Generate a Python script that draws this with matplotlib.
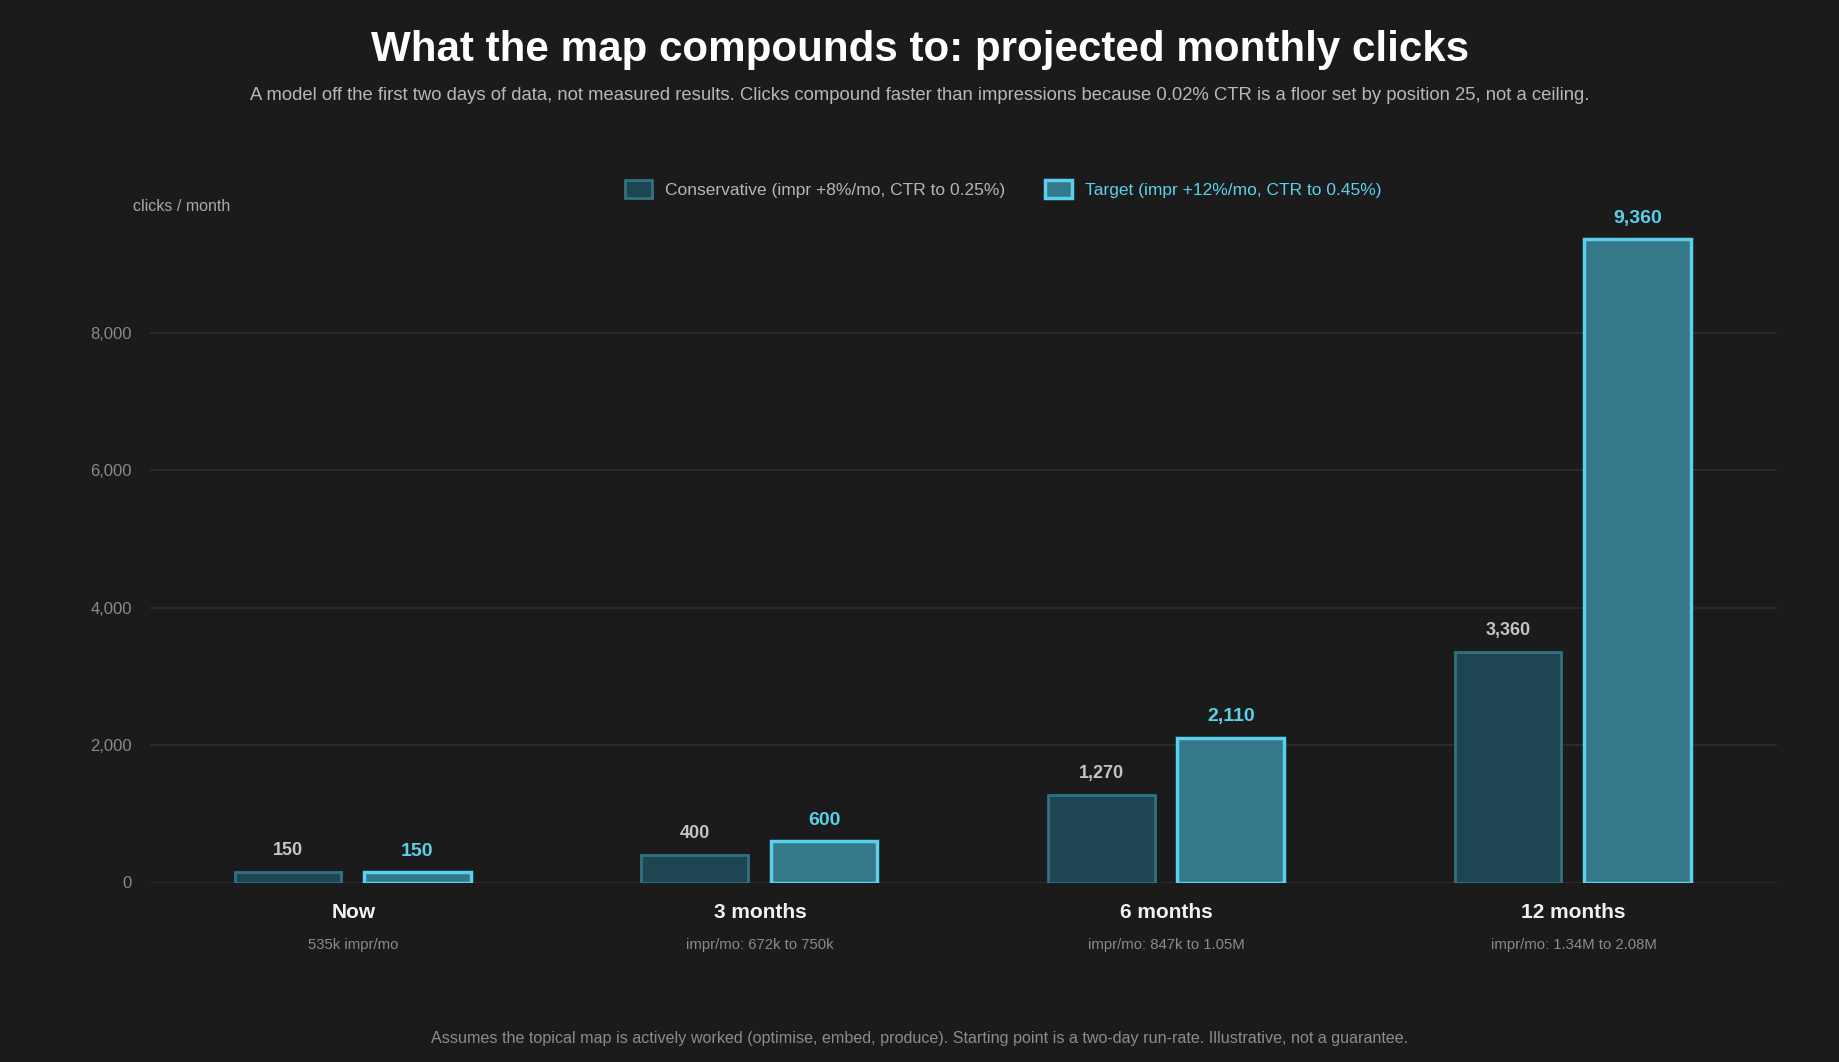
import matplotlib
matplotlib.use("Agg")
import matplotlib.pyplot as plt
from matplotlib.patches import Patch
import numpy as np

plt.rcParams['font.family'] = ['Liberation Sans', 'DejaVu Sans']

# ---- data ----
categories = ["Now", "3 months", "6 months", "12 months"]
sublabels = ["535k impr/mo", "impr/mo: 672k to 750k", "impr/mo: 847k to 1.05M", "impr/mo: 1.34M to 2.08M"]
conservative = [150, 400, 1270, 3360]
target = [150, 600, 2110, 9360]
yticks = [0, 2000, 4000, 6000, 8000]
series_labels = ["Conservative (impr +8%/mo, CTR to 0.25%)", "Target (impr +12%/mo, CTR to 0.45%)"]

title = "What the map compounds to: projected monthly clicks"
subtitle = ("A model off the first two days of data, not measured results. Clicks compound faster than "
            "impressions because 0.02% CTR is a floor set by position 25, not a ceiling.")
footer = ("Assumes the topical map is actively worked (optimise, embed, produce). Starting point is a "
          "two-day run-rate. Illustrative, not a guarantee.")

# ---- style ----
BG = "#1b1b1b"
GRID = "#2f2f2f"
C_FILL, C_EDGE, C_TXT = "#1d4552", "#2f7282", "#c4c4c4"
T_FILL, T_EDGE, T_TXT = "#35788a", "#5ad0ec", "#5bd0ea"

W, H = 1840, 1062
fig = plt.figure(figsize=(W / 100, H / 100), dpi=100, facecolor=BG)
ax = fig.add_axes([150 / W, (H - 882.5) / H, (1777 - 150) / W, 687 / H])
ax.set_facecolor(BG)

x = np.arange(len(categories))
off_c, off_t = 0.161, 0.157
bw = 0.262
b1 = ax.bar(x - off_c, conservative, bw, facecolor=C_FILL, edgecolor=C_EDGE, linewidth=2, zorder=3)
b2 = ax.bar(x + off_t, target, bw, facecolor=T_FILL, edgecolor=T_EDGE, linewidth=2.5, zorder=3)

for rect, v in zip(b1, conservative):
    ax.annotate(f"{v:,}", (rect.get_x() + rect.get_width() / 2, v), xytext=(0, 15.5),
                textcoords="offset points", ha="center", va="center",
                fontsize=13, fontweight="bold", color=C_TXT)
for rect, v in zip(b2, target):
    ax.annotate(f"{v:,}", (rect.get_x() + rect.get_width() / 2, v), xytext=(0, 15),
                textcoords="offset points", ha="center", va="center",
                fontsize=14, fontweight="bold", color=T_TXT)

ax.set_xlim(-0.5, len(categories) - 0.5)
ax.set_ylim(0, 10000)
ax.set_yticks(yticks)
ax.set_yticklabels([f"{t:,}" for t in yticks])
ax.tick_params(axis="y", length=0, pad=13, labelsize=12, labelcolor="#8a8a8a")
ax.set_xticks([])
for s in ax.spines.values():
    s.set_visible(False)
ax.grid(axis="y", color=GRID, linewidth=1.2, zorder=0)
ax.set_axisbelow(True)

xt = ax.get_xaxis_transform()
for i, (c, s) in enumerate(zip(categories, sublabels)):
    ax.annotate(c, (i, 0), xycoords=xt, xytext=(0, -21.5), textcoords="offset points",
                ha="center", va="center", fontsize=15, fontweight="bold", color="#f2f2f2")
    ax.annotate(s, (i, 0), xycoords=xt, xytext=(0, -45), textcoords="offset points",
                ha="center", va="center", fontsize=10.7, color="#8a8a8a")

fig.text(133 / W, 1 - 206.5 / H, "clicks / month", ha="left", va="center", fontsize=11.5, color="#a8a8a8")

fig.text(0.5, 1 - 50.5 / H, title, ha="center", va="center", fontsize=30.3, fontweight="bold", color="#ffffff")
fig.text(0.5, 1 - 95.5 / H, subtitle, ha="center", va="center", fontsize=13.35, color="#b8b8b8")
fig.text(0.5, 1 - 1038.5 / H, footer, ha="center", va="center", fontsize=11.65, color="#8c8c8c")

handles = [Patch(facecolor=C_FILL, edgecolor=C_EDGE, linewidth=2),
           Patch(facecolor=T_FILL, edgecolor=T_EDGE, linewidth=2.5)]
leg = fig.legend(handles, series_labels, loc="center", bbox_to_anchor=(1003 / W, 1 - 189 / H),
                 ncol=2, frameon=False, fontsize=12.5, handlelength=1.55, handleheight=1.2,
                 handletextpad=0.75, columnspacing=2.3)
for t, col in zip(leg.get_texts(), ["#b5b5b5", T_TXT]):
    t.set_color(col)

fig.savefig("out.png", dpi=100, facecolor=BG)
